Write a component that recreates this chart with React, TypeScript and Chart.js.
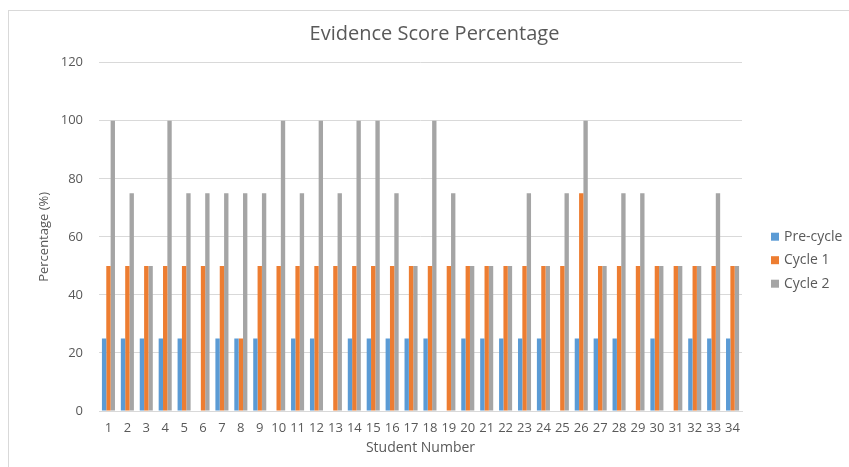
import { useEffect, useRef } from "react";
import { Chart, registerables } from "chart.js";

Chart.register(...registerables);

const students = ["1","2","3","4","5","6","7","8","9","10","11","12","13","14","15","16","17","18","19","20","21","22","23","24","25","26","27","28","29","30","31","32","33","34"];
const preCycle = [25,25,25,25,25,0,25,25,25,0,25,25,0,25,25,25,25,25,0,25,25,25,25,25,0,25,25,25,0,25,0,25,25,25];
const cycle1 = [50,50,50,50,50,50,50,25,50,50,50,50,50,50,50,50,50,50,50,50,50,50,50,50,50,75,50,50,50,50,50,50,50,50];
const cycle2 = [100,75,50,100,75,75,75,75,75,100,75,100,75,100,100,75,50,100,75,50,50,50,75,50,75,100,50,75,75,50,50,50,75,50];
const seriesNames = ["Pre-cycle", "Cycle 1", "Cycle 2"];
const seriesColors = ["#5B9BD5", "#ED7D31", "#A5A5A5"];

const TEXT = "#595959";
const GRID = "#D9D9D9";
const FONT = '"Open Sans", "DejaVu Sans", sans-serif';

const sideLegend = {
  id: "sideLegend",
  afterDraw(chart: any) {
    const { ctx, chartArea } = chart;
    ctx.save();
    ctx.font = `14px ${FONT}`;
    ctx.textBaseline = "middle";
    ctx.textAlign = "left";
    chart.data.datasets.forEach((ds: any, i: number) => {
      const x = chartArea.right + 29;
      const y = chartArea.top + 174 + i * 23.5;
      ctx.fillStyle = ds.backgroundColor;
      ctx.fillRect(x, y - 4, 8, 8);
      ctx.fillStyle = TEXT;
      ctx.fillText(ds.label, x + 13, y);
    });
    ctx.restore();
  },
};

export default function App() {
  const ref = useRef<HTMLCanvasElement | null>(null);

  useEffect(() => {
    if (!ref.current) return;
    const data = [preCycle, cycle1, cycle2];
    const chart = new Chart(ref.current, {
      type: "bar",
      data: {
        labels: students,
        datasets: seriesNames.map((name, i) => ({
          label: name,
          data: data[i],
          backgroundColor: seriesColors[i],
          borderWidth: 0,
          barPercentage: 1,
          categoryPercentage: 0.69,
          yAxisID: "y",
        })),
      },
      options: {
        responsive: false,
        animation: false,
        layout: { padding: { left: 20, top: 0, right: 0, bottom: 0 } },
        plugins: {
          legend: { display: false },
          tooltip: { enabled: false },
          title: {
            display: true,
            text: "Evidence Score Percentage",
            color: TEXT,
            font: { family: FONT, size: 20, weight: "normal" },
            padding: { top: 22, bottom: 16.7 },
          },
        },
        scales: {
          x: {
            grid: { display: false, drawTicks: false },
            border: { display: true, color: GRID },
            ticks: {
              color: TEXT,
              font: { family: FONT, size: 13 },
              padding: 9,
              maxRotation: 0,
              autoSkip: false,
            },
            title: {
              display: true,
              text: "Student Number",
              color: TEXT,
              font: { family: FONT, size: 14 },
              padding: { top: 0, bottom: 11 },
            },
            afterFit: (s: any) => { s.height = 56; },
          },
          y: {
            min: 0,
            max: 120,
            ticks: {
              stepSize: 20,
              color: TEXT,
              font: { family: FONT, size: 13 },
              padding: 16,
            },
            grid: { color: GRID, drawTicks: false },
            border: { display: false },
            title: {
              display: true,
              text: "Percentage (%)",
              color: TEXT,
              font: { family: FONT, size: 13 },
              padding: { top: 16, bottom: 0 },
            },
            afterFit: (s: any) => { s.width = 79; },
          },
          side: {
            type: "linear",
            position: "right",
            display: true,
            grid: { display: false, drawTicks: false },
            border: { display: false },
            ticks: { display: false },
            afterFit: (s: any) => { s.width = 107; },
          },
        },
      },
      plugins: [sideLegend],
    } as any);
    return () => chart.destroy();
  }, []);

  return (
    <div style={{ position: "fixed", left: 0, top: 0, width: 849, height: 467, background: "#fff", overflow: "hidden" }}>
      <div style={{ position: "absolute", left: 8, top: 10, width: 900, height: 500, border: `1px solid ${GRID}`, boxSizing: "border-box" }} />
      <canvas ref={ref} width={849} height={467} style={{ position: "absolute", left: 0, top: 0, width: 849, height: 467 }} />
    </div>
  );
}
